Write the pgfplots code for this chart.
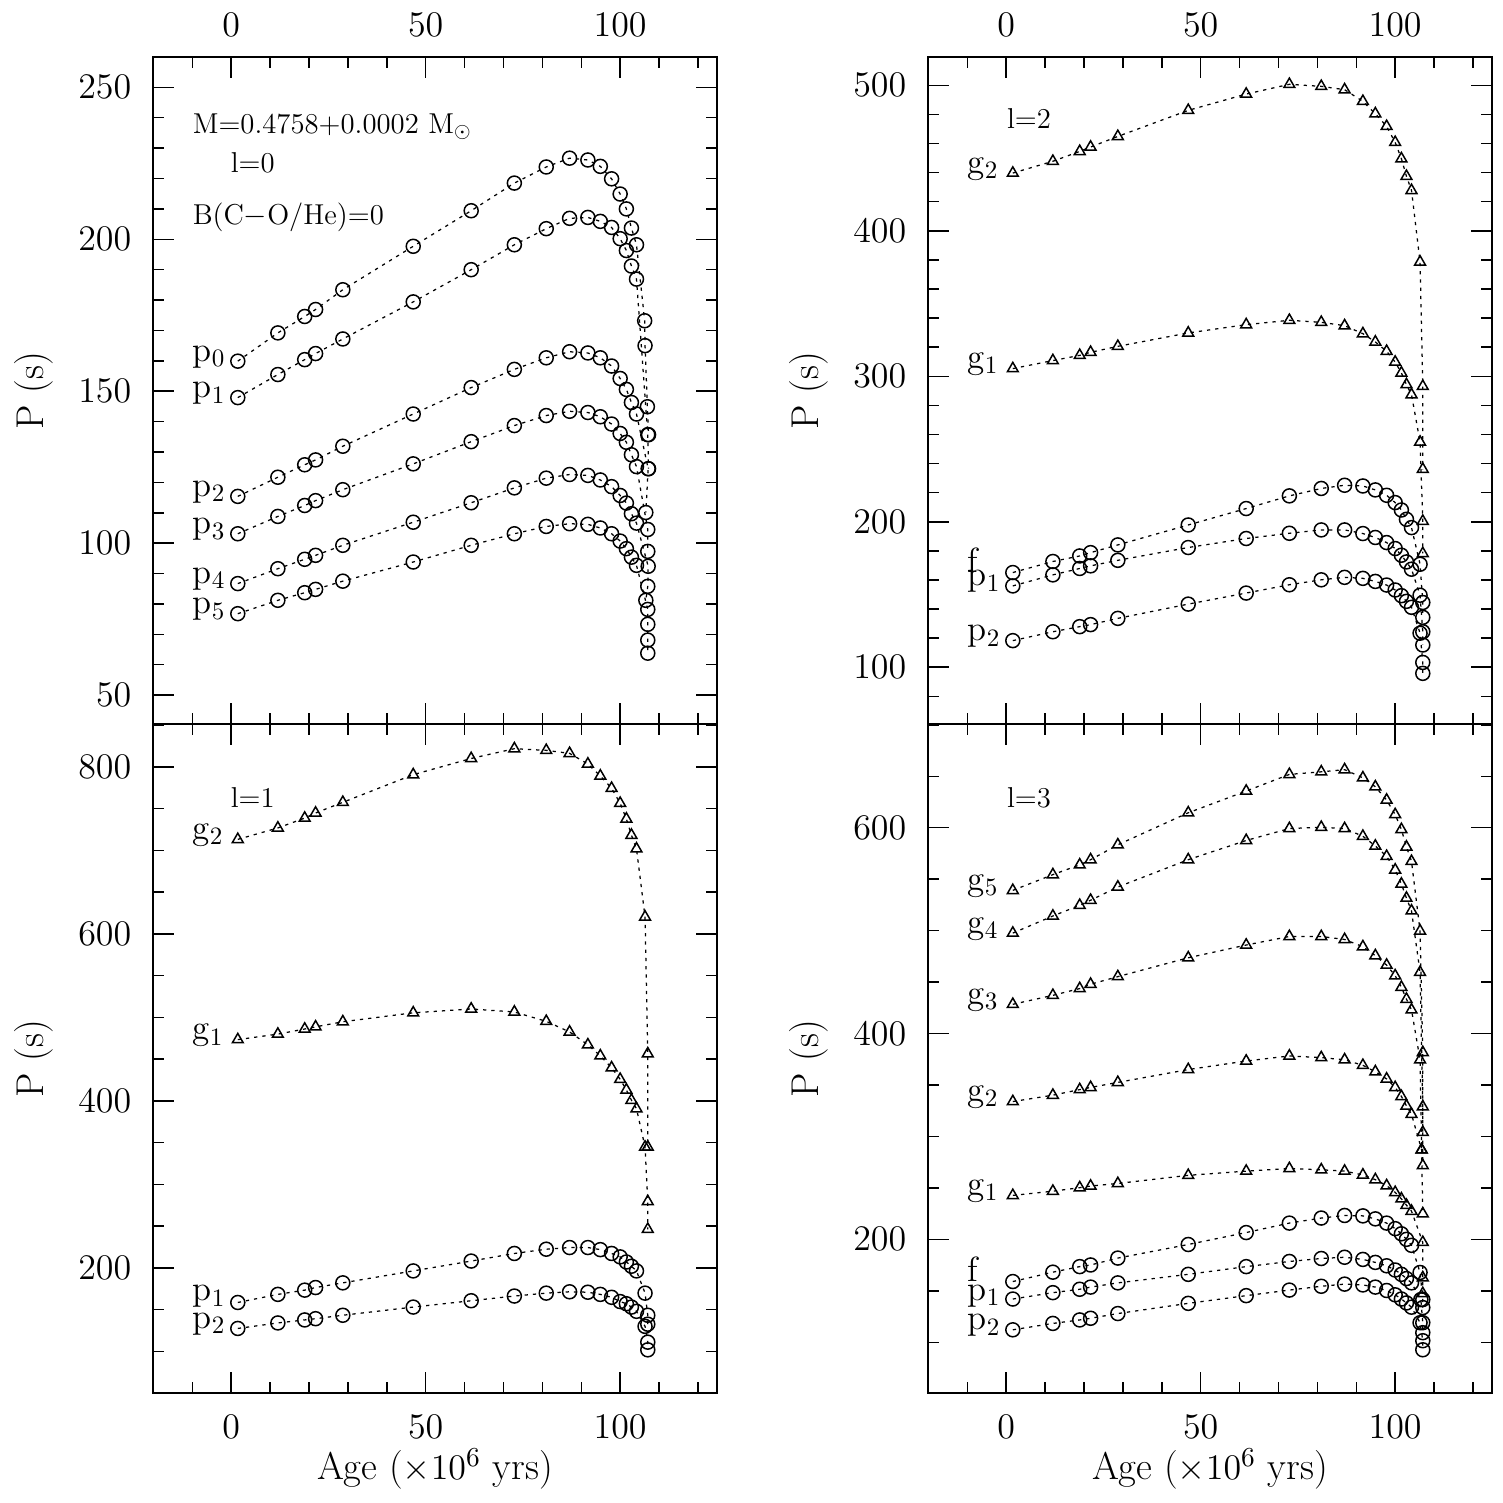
\documentclass[border=0pt]{standalone}
\usepackage{pgfplots}
\pgfplotsset{compat=1.18}
\newcommand{\tfont}{\fontsize{14.5}{17}\selectfont}
\newcommand{\lfont}{\fontsize{15.5}{18}\selectfont}
\newcommand{\mfont}{\fontsize{14}{16}\selectfont}
\newcommand{\afont}{\fontsize{11.5}{14}\selectfont}
\pgfplotsset{
  panel/.style={
    scale only axis, width=225.6pt, clip=false,
    xmin=-20.1, xmax=124.9,
    xtick={-50,0,50,100,150}, minor x tick num=4,
    tick align=inside,
    xtick pos=both, ytick pos=both, yticklabel pos=left,
    major tick length=8.4pt, minor tick length=4.4pt,
    axis line style={line width=0.6pt},
    tick style={line width=0.6pt, black},
    tick label style={font=\tfont},
    yticklabel style={anchor=east, inner sep=0pt, xshift=-8.5pt},
    every axis y label/.style={at={(axis description cs:-0.212,0.5)}, rotate=90, anchor=center, font=\lfont},
    every axis x label/.style={at={(axis description cs:0.5,-0.130)}, anchor=base, font=\lfont},
    ylabel={P (s)},
    every axis plot/.append style={black, line width=0.5pt, dash pattern=on 1.3pt off 2pt, mark options={solid, line width=0.6pt}},
  },
  toppanel/.style={panel, height=266.8pt, xticklabel pos=right,
    xticklabel style={anchor=south, inner sep=0pt, yshift=8pt}},
  botpanel/.style={panel, height=267.6pt, xticklabel pos=left,
    xticklabel style={anchor=north, inner sep=0pt, yshift=-8.8pt},
    xlabel={Age ($\times 10^6$ yrs)}},
  circ/.style={mark=o, mark size=2.8pt},
  tri/.style={mark=triangle, mark size=2.5pt},
}
\begin{document}
\begin{tikzpicture}[x=1pt,y=1pt]
\useasboundingbox (0,0) rectangle (601.2,601.2);

% ---------------- top left: l=0 ----------------
\begin{axis}[toppanel, at={(61.2pt,311.6pt)}, anchor=south west,
  ymin=40.5, ymax=260, ytick={0,50,...,300}, minor y tick num=4]
\addplot[circ] coordinates {(1.7,159.9) (12.0,169.2) (18.9,174.6) (21.7,176.9) (28.7,183.4) (46.8,197.7) (61.7,209.4) (72.8,218.5) (81.0,223.8) (87.0,226.7) (91.7,226.1) (94.9,224.0) (97.8,219.9) (100.0,214.9) (101.6,210.0) (102.9,203.7) (104.2,198.2) (106.3,173.2) (106.4,165.0) (107.0,144.9) (107.3,135.7)};
\addplot[circ] coordinates {(1.7,147.9) (12.0,155.5) (18.9,160.4) (21.7,162.4) (28.7,167.2) (46.8,179.4) (61.7,190.0) (72.8,198.2) (81.0,203.5) (87.0,206.9) (91.7,207.2) (94.9,205.9) (97.8,203.9) (100.0,200.2) (101.6,196.3) (102.9,191.2) (104.2,186.9) (107.1,135.7) (107.3,124.5)};
\addplot[circ] coordinates {(1.7,115.4) (12.0,121.7) (18.9,125.8) (21.7,127.4) (28.7,131.9) (46.8,142.5) (61.7,151.2) (72.8,157.2) (81.0,161.0) (87.0,163.0) (91.7,162.6) (94.9,161.0) (97.8,158.3) (100.0,154.2) (101.6,150.6) (102.9,146.3) (104.2,142.5) (107.2,124.5) (106.6,110.1)};
\addplot[circ] coordinates {(1.7,103.1) (12.0,108.8) (18.9,112.4) (21.7,114.0) (28.7,117.6) (46.8,126.1) (61.7,133.4) (72.8,138.7) (81.0,142.0) (87.0,143.4) (91.7,143.0) (94.9,141.6) (97.8,139.2) (100.0,136.1) (101.6,133.2) (102.9,129.1) (104.2,125.2) (107.1,104.5) (107.1,97.3)};
\addplot[circ] coordinates {(1.7,86.7) (12.0,91.6) (18.9,94.7) (21.7,96.0) (28.7,99.3) (46.8,106.9) (61.7,113.3) (72.8,118.2) (81.0,121.4) (87.0,122.6) (91.7,122.3) (94.9,120.8) (97.8,118.6) (100.0,115.7) (101.6,113.2) (102.9,109.7) (104.2,106.6) (107.2,92.4) (107.1,85.8) (106.6,81.2)};
\addplot[circ] coordinates {(1.7,76.8) (12.0,81.2) (18.9,83.7) (21.7,84.8) (28.7,87.5) (46.8,93.8) (61.7,99.3) (72.8,103.1) (81.0,105.5) (87.0,106.4) (91.7,106.2) (94.9,105.0) (97.8,103.1) (100.0,100.7) (101.6,98.2) (102.9,95.4) (104.2,92.7) (107.1,78.2) (107.1,73.3) (107.1,68.1) (107.1,63.8)};
\node[anchor=base west, font=\mfont, inner sep=0pt] at (axis cs:-10,159.9) {p$_0$};
\node[anchor=base west, font=\mfont, inner sep=0pt] at (axis cs:-10,147.9) {p$_1$};
\node[anchor=base west, font=\mfont, inner sep=0pt] at (axis cs:-10,115.4) {p$_2$};
\node[anchor=base west, font=\mfont, inner sep=0pt] at (axis cs:-10,103.1) {p$_3$};
\node[anchor=base west, font=\mfont, inner sep=0pt] at (axis cs:-10,86.7) {p$_4$};
\node[anchor=base west, font=\mfont, inner sep=0pt] at (axis cs:-10,76.8) {p$_5$};
\node[anchor=base west, font=\afont, inner sep=0pt] at (axis cs:-10,234.9) {M=0.4758+0.0002 M$_\odot$};
\node[anchor=base west, font=\afont, inner sep=0pt] at (axis cs:-0.2,222.0) {l=0};
\node[anchor=base west, font=\afont, inner sep=0pt] at (axis cs:-10,205.0) {B(C$-$O/He)=0};
\end{axis}

% ---------------- top right: l=2 ----------------
\begin{axis}[toppanel, at={(371.2pt,311.6pt)}, anchor=south west,
  ymin=61, ymax=519.5, ytick={0,100,...,600}, minor y tick num=4]
\addplot[tri] coordinates {(1.7,439.7) (12.0,447.8) (18.9,454.6) (21.7,457.6) (28.7,464.9) (46.8,482.8) (61.7,494.0) (72.8,500.7) (81.0,499.3) (87.0,497.0) (91.7,489.0) (94.9,480.5) (97.8,471.8) (100.0,460.8) (101.6,449.6) (102.9,437.5) (104.2,427.8) (106.4,378.6) (107.1,293.1) (107.1,236.1)};
\addplot[tri] coordinates {(1.7,305.3) (12.0,310.8) (18.9,314.4) (21.7,316.5) (28.7,320.6) (46.8,329.8) (61.7,335.5) (72.8,338.5) (81.0,337.1) (87.0,334.8) (91.7,329.3) (94.9,323.6) (97.8,317.2) (100.0,309.8) (101.6,302.3) (102.9,294.3) (104.2,287.4) (106.4,254.8) (107.1,200.4) (107.1,178.2)};
\addplot[circ] coordinates {(1.7,165.1) (12.0,172.7) (18.9,176.5) (21.7,178.8) (28.7,184.1) (46.8,197.8) (61.7,209.1) (72.8,217.8) (81.0,222.9) (87.0,225.1) (91.7,224.6) (94.9,221.9) (97.8,218.2) (100.0,213.2) (101.6,208.1) (102.9,201.7) (104.2,196.0) (106.4,170.8) (107.1,144.5) (107.1,134.3)};
\addplot[circ] coordinates {(1.7,155.9) (12.0,163.5) (18.9,167.9) (21.7,169.7) (28.7,173.5) (46.8,182.3) (61.7,188.5) (72.8,192.1) (81.0,194.4) (87.0,194.4) (91.7,191.9) (94.9,189.2) (97.8,185.7) (100.0,181.6) (101.6,177.0) (102.9,172.4) (104.2,167.4) (106.4,149.5) (107.1,124.4) (107.1,115.3)};
\addplot[circ] coordinates {(1.7,118.3) (12.0,124.4) (18.9,127.9) (21.7,129.3) (28.7,133.6) (46.8,143.4) (61.7,151.0) (72.8,156.7) (81.0,160.1) (87.0,161.8) (91.7,161.1) (94.9,159.0) (97.8,156.5) (100.0,153.1) (101.6,149.2) (102.9,145.3) (104.2,141.2) (106.4,123.4) (107.1,103.3) (107.1,95.8)};
\node[anchor=base west, font=\mfont, inner sep=0pt] at (axis cs:-10,439.7) {g$_2$};
\node[anchor=base west, font=\mfont, inner sep=0pt] at (axis cs:-10,305.3) {g$_1$};
\node[anchor=base west, font=\mfont, inner sep=0pt] at (axis cs:-10,165.1) {f};
\node[anchor=base west, font=\mfont, inner sep=0pt] at (axis cs:-10,155.9) {p$_1$};
\node[anchor=base west, font=\mfont, inner sep=0pt] at (axis cs:-10,118.3) {p$_2$};
\node[anchor=base west, font=\afont, inner sep=0pt] at (axis cs:0.1,470.2) {l=2};
\end{axis}

% ---------------- bottom left: l=1 ----------------
\begin{axis}[botpanel, at={(61.2pt,44pt)}, anchor=south west,
  ymin=50.3, ymax=851.5, ytick={0,200,...,1000}, minor y tick num=3]
\addplot[tri] coordinates {(1.7,713.3) (12.0,727.0) (18.9,738.8) (21.7,744.9) (28.7,757.7) (46.8,790.8) (61.7,810.2) (72.8,821.9) (81.0,819.9) (87.0,816.3) (91.7,803.6) (94.9,789.3) (97.8,774.5) (100.0,756.6) (101.6,737.8) (102.9,718.4) (104.2,702.0) (106.4,620.4) (107.1,456.6) (107.1,344.9)};
\addplot[tri] coordinates {(1.7,473.5) (12.0,480.1) (18.9,486.2) (21.7,488.8) (28.7,494.9) (46.8,505.6) (61.7,510.2) (72.8,506.6) (81.0,495.4) (87.0,482.7) (91.7,467.3) (94.9,454.1) (97.8,439.8) (100.0,426.0) (101.6,413.3) (102.9,401.0) (104.2,390.8) (106.4,344.9) (107.1,279.6) (107.1,246.4)};
\addplot[circ] coordinates {(1.7,158.7) (12.0,168.4) (18.9,173.5) (21.7,176.6) (28.7,182.2) (46.8,196.5) (61.7,208.3) (72.8,217.4) (81.0,222.5) (87.0,224.5) (91.7,224.5) (94.9,222.0) (97.8,217.4) (100.0,213.3) (101.6,207.2) (102.9,202.1) (104.2,196.5) (106.4,169.9) (107.1,143.4) (107.1,132.7)};
\addplot[circ] coordinates {(1.7,127.6) (12.0,134.2) (18.9,137.8) (21.7,139.3) (28.7,143.4) (46.8,153.2) (61.7,160.8) (72.8,166.4) (81.0,169.9) (87.0,171.5) (91.7,171.0) (94.9,168.4) (97.8,164.9) (100.0,159.8) (101.6,157.2) (102.9,153.2) (104.2,148.1) (106.4,130.1) (107.1,111.2) (107.1,102.0)};
\node[anchor=base west, font=\mfont, inner sep=0pt] at (axis cs:-10,713.3) {g$_2$};
\node[anchor=base west, font=\mfont, inner sep=0pt] at (axis cs:-10,473.5) {g$_1$};
\node[anchor=base west, font=\mfont, inner sep=0pt] at (axis cs:-10,160.5) {p$_1$};
\node[anchor=base west, font=\mfont, inner sep=0pt] at (axis cs:-10,127.6) {p$_2$};
\node[anchor=base west, font=\afont, inner sep=0pt] at (axis cs:-0.2,750.9) {l=1};
\end{axis}

% ---------------- bottom right: l=3 ----------------
\begin{axis}[botpanel, at={(371.2pt,44pt)}, anchor=south west,
  ymin=50.7, ymax=700.8, ytick={0,200,...,800}, minor y tick num=3]
\addplot[tri] coordinates {(1.7,539.1) (12.0,554.4) (18.9,563.9) (21.7,568.9) (28.7,583.4) (46.8,614.5) (61.7,635.6) (72.8,651.8) (81.0,654.3) (87.0,656.4) (91.7,648.5) (94.9,639.8) (97.8,626.9) (100.0,612.8) (101.6,598.3) (102.9,581.3) (104.2,567.3) (106.4,499.7) (107.1,381.6) (107.1,304.0)};
\addplot[tri] coordinates {(1.7,497.6) (12.0,514.2) (18.9,524.6) (21.7,529.5) (28.7,542.4) (46.8,568.9) (61.7,587.6) (72.8,599.2) (81.0,600.4) (87.0,599.2) (91.7,591.7) (94.9,582.2) (97.8,572.2) (100.0,559.0) (101.6,545.3) (102.9,531.6) (104.2,519.2) (106.4,459.5) (107.1,328.9) (107.1,271.7)};
\addplot[tri] coordinates {(1.7,428.4) (12.0,437.1) (18.9,443.7) (21.7,447.9) (28.7,455.3) (46.8,473.6) (61.7,486.0) (72.8,494.3) (81.0,494.3) (87.0,491.4) (91.7,484.4) (94.9,475.7) (97.8,466.5) (100.0,456.2) (101.6,445.0) (102.9,433.4) (104.2,423.0) (106.4,374.5) (106.8,287.1)};
\addplot[tri] coordinates {(1.7,333.9) (12.0,340.1) (18.9,345.5) (21.7,347.6) (28.7,352.5) (46.8,365.0) (61.7,373.3) (72.8,378.2) (81.0,376.6) (87.0,374.5) (91.7,369.1) (94.9,362.9) (97.8,355.9) (100.0,347.6) (101.6,338.9) (102.9,329.7) (104.2,321.5) (106.8,287.1) (107.1,224.9)};
\addplot[tri] coordinates {(1.7,242.7) (12.0,246.8) (18.9,250.2) (21.7,251.8) (28.7,254.3) (46.8,262.2) (61.7,266.3) (72.8,268.8) (81.0,267.6) (87.0,266.3) (91.7,262.6) (94.9,258.0) (97.8,252.2) (100.0,245.6) (101.6,239.4) (102.9,233.2) (104.2,227.4) (107.1,197.1) (107.1,162.7) (107.1,147.4)};
\addplot[circ] coordinates {(1.7,159.0) (12.0,168.1) (18.9,173.5) (21.7,175.1) (28.7,181.8) (46.8,195.0) (61.7,206.6) (72.8,215.8) (81.0,220.7) (87.0,223.2) (91.7,222.8) (94.9,219.9) (97.8,215.8) (100.0,210.4) (101.6,205.4) (102.9,200.0) (104.2,194.2) (106.4,167.8) (107.1,141.5) (107.1,133.7)};
\addplot[circ] coordinates {(1.7,142.0) (12.0,148.2) (18.9,151.5) (21.7,153.6) (28.7,157.7) (46.8,166.0) (61.7,173.5) (72.8,178.5) (81.0,181.4) (87.0,182.6) (91.7,180.5) (94.9,177.6) (97.8,174.3) (100.0,170.2) (101.6,166.0) (102.9,161.9) (104.2,157.7) (106.6,141.5) (107.1,119.0) (107.1,109.3)};
\addplot[circ] coordinates {(1.7,112.1) (12.0,118.3) (18.9,121.7) (21.7,123.3) (28.7,127.9) (46.8,137.8) (61.7,145.3) (72.8,150.7) (81.0,154.4) (87.0,156.5) (91.7,155.7) (94.9,153.6) (97.8,150.3) (100.0,146.1) (101.6,142.0) (102.9,138.2) (104.2,134.1) (106.4,119.0) (107.1,101.5) (107.1,92.7)};
\node[anchor=base west, font=\mfont, inner sep=0pt] at (axis cs:-10,159.0) {f};
\node[anchor=base west, font=\mfont, inner sep=0pt] at (axis cs:-10,539.1) {g$_5$};
\node[anchor=base west, font=\mfont, inner sep=0pt] at (axis cs:-10,497.6) {g$_4$};
\node[anchor=base west, font=\mfont, inner sep=0pt] at (axis cs:-10,428.4) {g$_3$};
\node[anchor=base west, font=\mfont, inner sep=0pt] at (axis cs:-10,333.9) {g$_2$};
\node[anchor=base west, font=\mfont, inner sep=0pt] at (axis cs:-10,242.7) {g$_1$};
\node[anchor=base west, font=\mfont, inner sep=0pt] at (axis cs:-10,141.0) {p$_1$};
\node[anchor=base west, font=\mfont, inner sep=0pt] at (axis cs:-10,112.1) {p$_2$};
\node[anchor=base west, font=\afont, inner sep=0pt] at (axis cs:0.1,619.9) {l=3};
\end{axis}
\end{tikzpicture}
\end{document}
